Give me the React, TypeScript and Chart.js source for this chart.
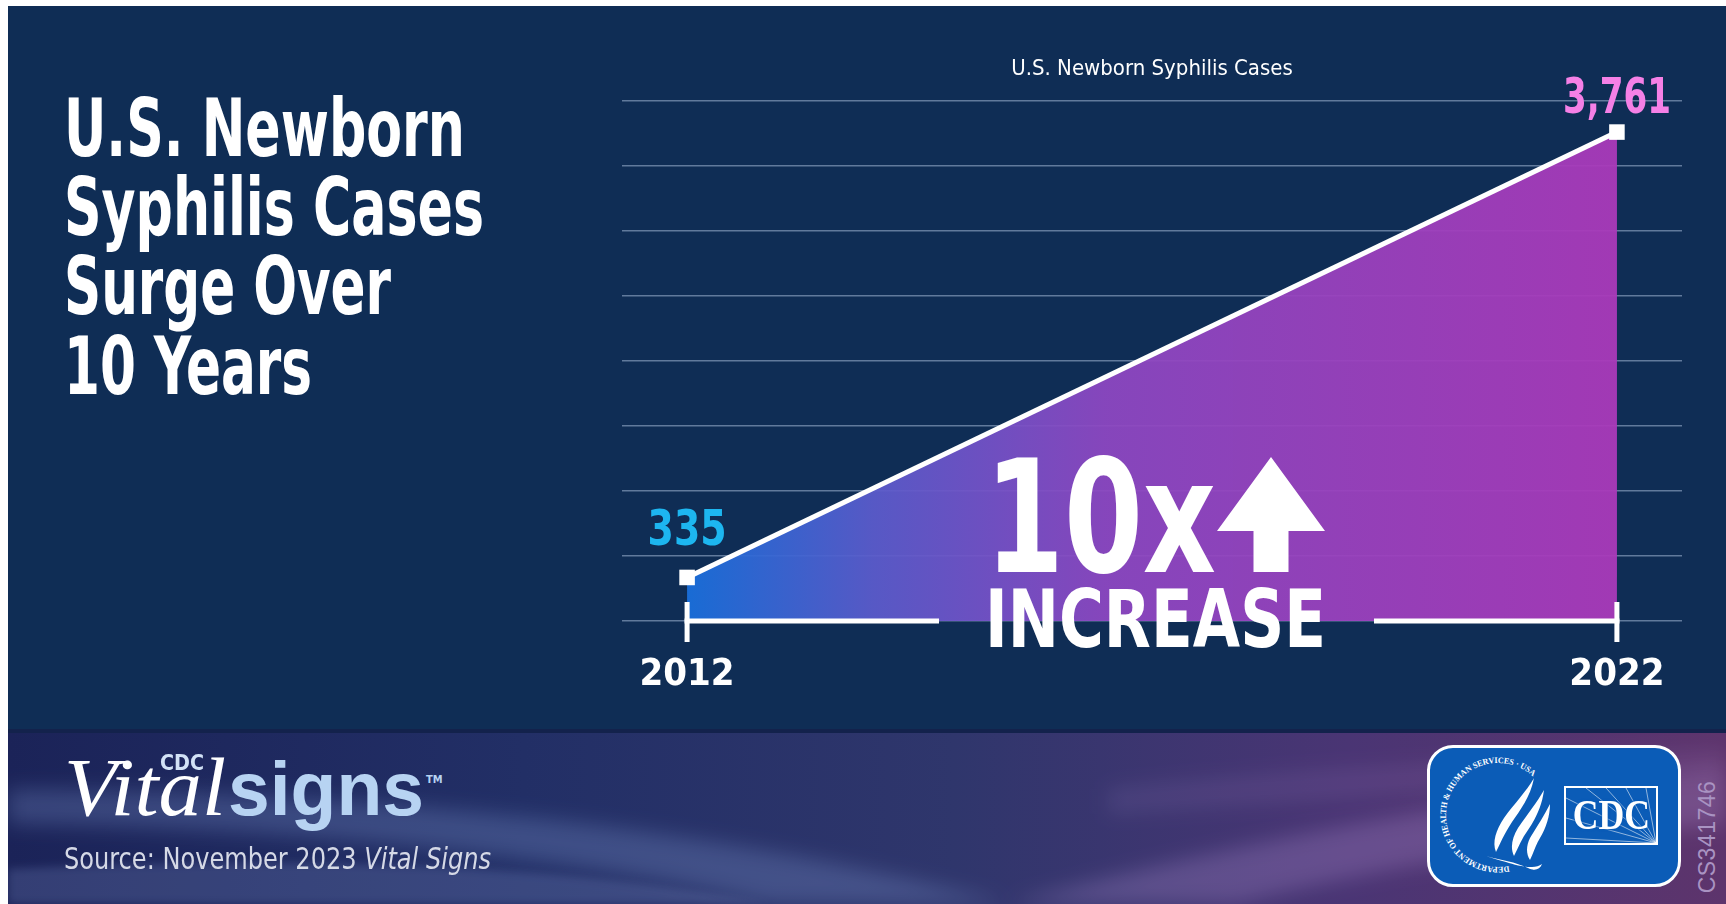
import React, { useEffect, useRef } from "react";
import { Chart, registerables } from "chart.js";

Chart.register(...registerables);

// ---- data ----
const years = [2012, 2022];
const cases = [335, 3761];
const caseLabels = ["335", "3,761"];
const caseLabelColors = ["#1db6f0", "#f580e6"];
const xTickYears = [2012, 2022];
const xMin = 2011.3;
const xMax = 2022.7;
const yMin = 0;
const yMax = 4000;
const yStep = 500;
const chartTitle = "U.S. Newborn Syphilis Cases";
const headlineLines = ["U.S. Newborn", "Syphilis Cases", "Surge Over", "10 Years"];

const NARROW =
  "'Liberation Sans Narrow', 'DejaVu Sans Condensed', 'Liberation Sans', Arial, sans-serif";
const SERIF = "'Liberation Serif', 'DejaVu Serif', serif";
const SANS = "'Liberation Sans', Arial, sans-serif";

let _mctx: CanvasRenderingContext2D | null = null;
function textWidth(text: string, font: string) {
  if (!_mctx) _mctx = document.createElement("canvas").getContext("2d");
  _mctx!.font = font;
  return _mctx!.measureText(text).width;
}

function fitText(
  ctx: CanvasRenderingContext2D,
  text: string,
  x: number,
  y: number,
  targetW: number,
  font: string,
  align: "left" | "center" = "left"
) {
  ctx.save();
  ctx.font = font;
  ctx.textBaseline = "alphabetic";
  ctx.textAlign = "left";
  const w = ctx.measureText(text).width;
  const sx = targetW / w;
  const left = align === "center" ? x - targetW / 2 : x;
  ctx.translate(left, y);
  ctx.scale(sx, 1);
  ctx.fillText(text, 0, 0);
  ctx.restore();
}

function FitDiv(props: {
  text: string;
  left: number;
  top: number;
  width: number;
  size: number;
  family: string;
  weight?: number;
  italic?: boolean;
  color: string;
}) {
  const { text, left, top, width, size, family, weight = 400, italic = false, color } = props;
  const font = `${italic ? "italic " : ""}${weight} ${size}px ${family}`;
  const w = textWidth(text, font);
  const sx = w > 0 ? width / w : 1;
  return (
    <div
      style={{
        position: "absolute",
        left,
        top,
        fontFamily: family,
        fontSize: size,
        fontWeight: weight,
        fontStyle: italic ? "italic" : "normal",
        lineHeight: 1,
        color,
        whiteSpace: "pre",
        transformOrigin: "left top",
        transform: `scaleX(${sx})`,
      }}
    >
      {text}
    </div>
  );
}

const overlayPlugin = {
  id: "overlay",
  afterDatasetsDraw(chart: any) {
    const { ctx } = chart;
    const xs = chart.scales.x;
    const ys = chart.scales.y;
    const base = ys.getPixelForValue(yMin);
    const x0 = xs.getPixelForValue(years[0]);
    const x1 = xs.getPixelForValue(years[years.length - 1]);
    const cx = xs.getPixelForValue((years[0] + years[years.length - 1]) / 2);
    ctx.save();
    ctx.fillStyle = "#ffffff";
    // bracket line with gap
    ctx.fillRect(x0 - 2.5, base - 2.5, cx - 213 - x0 + 2.5, 5);
    ctx.fillRect(cx + 222, base - 2.5, x1 - (cx + 222) + 2.5, 5);
    ctx.fillRect(x0 - 2.5, base - 19, 5, 40);
    ctx.fillRect(x1 - 2.5, base - 19, 5, 40);
    // 10x
    fitText(ctx, "10x", cx - 167, base - 49, 231, `bold 156px ${NARROW}`);
    // arrow
    const ax = cx + 119;
    ctx.beginPath();
    ctx.moveTo(ax, base - 164);
    ctx.lineTo(ax + 54, base - 90);
    ctx.lineTo(ax + 17.5, base - 90);
    ctx.lineTo(ax + 17.5, base - 49);
    ctx.lineTo(ax - 17.5, base - 49);
    ctx.lineTo(ax - 17.5, base - 90);
    ctx.lineTo(ax - 54, base - 90);
    ctx.closePath();
    ctx.fill();
    // INCREASE
    fitText(ctx, "INCREASE", cx - 167, base + 26, 341, `bold 80px ${NARROW}`);
    // value labels
    const offs = [-32, -19];
    const widths = [79, 108];
    years.forEach((yr, i) => {
      const px = xs.getPixelForValue(yr);
      const py = ys.getPixelForValue(cases[i]);
      ctx.fillStyle = caseLabelColors[i];
      fitText(ctx, caseLabels[i], px, py + offs[i], widths[i], `bold 50px ${NARROW}`, "center");
    });
    ctx.restore();
  },
};

const fillGradient = (context: any) => {
  const chart = context.chart;
  const { ctx, chartArea, scales } = chart;
  if (!chartArea || !scales.x) return "rgba(0,0,0,0)";
  const x0 = scales.x.getPixelForValue(years[0]);
  const x1 = scales.x.getPixelForValue(years[years.length - 1]);
  const g = ctx.createLinearGradient(x0, 0, x1, 0);
  g.addColorStop(0, "rgba(26,112,220,0.94)");
  g.addColorStop(0.2, "rgba(92,92,204,0.94)");
  g.addColorStop(0.45, "rgba(142,72,194,0.94)");
  g.addColorStop(1, "rgba(170,58,186,0.95)");
  return g;
};

function ChartCanvas() {
  const ref = useRef<HTMLCanvasElement | null>(null);
  useEffect(() => {
    if (!ref.current) return;
    const chart = new Chart(ref.current, {
      type: "line",
      data: {
        datasets: [
          {
            data: years.map((yr, i) => ({ x: yr, y: cases[i] })),
            borderColor: "#ffffff",
            borderWidth: 5,
            pointStyle: "rect",
            pointRadius: 11,
            pointHoverRadius: 11,
            pointBackgroundColor: "#ffffff",
            pointBorderWidth: 0,
            fill: "origin",
            backgroundColor: fillGradient,
            tension: 0,
            clip: false as any,
          },
        ],
      },
      options: {
        responsive: false,
        animation: false,
        events: [],
        layout: { padding: { left: 614, right: 44, top: 0, bottom: 0 } },
        plugins: {
          legend: { display: false },
          tooltip: { enabled: false },
          title: {
            display: true,
            text: chartTitle,
            color: "#ffffff",
            fullSize: false,
            font: { family: NARROW, size: 22, weight: "normal", lineHeight: 1.2 },
            padding: { top: 49.8, bottom: 18.8 },
          },
        },
        scales: {
          x: {
            type: "linear",
            min: xMin,
            max: xMax,
            grid: { display: false, drawTicks: false },
            border: { display: false },
            afterBuildTicks: (s: any) => {
              s.ticks = xTickYears.map((v) => ({ value: v }));
            },
            afterFit: (s: any) => {
              s.height = 108;
            },
            ticks: {
              color: "#ffffff",
              font: { family: NARROW, size: 38, weight: "bold" },
              padding: 31,
              maxRotation: 0,
              autoSkip: false,
              callback: (v: any) => String(v),
            },
          },
          y: {
            min: yMin,
            max: yMax,
            ticks: { display: false, stepSize: yStep },
            grid: { color: "rgba(165,185,215,0.55)", lineWidth: 1.5, drawTicks: false },
            border: { display: false },
            afterFit: (s: any) => {
              s.width = 0;
            },
          },
        },
      },
      plugins: [overlayPlugin],
    } as any);
    return () => chart.destroy();
  }, []);
  return (
    <canvas
      ref={ref}
      width={1718}
      height={723}
      style={{ position: "absolute", left: 0, top: 0, width: 1718, height: 723 }}
    />
  );
}

function Footer() {
  const srcFont = `400 30px ${NARROW}`;
  const srcA = "Source: November 2023 ";
  const srcB = "Vital Signs";
  const srcW = textWidth(srcA, srcFont) + textWidth(srcB, `italic ${srcFont}`);
  const srcScale = 427 / srcW;
  return (
    <div
      style={{
        position: "absolute",
        left: 0,
        top: 723,
        width: 1718,
        height: 175,
        overflow: "hidden",
      }}
    >
      <svg width={1718} height={175} style={{ position: "absolute", left: 0, top: 0 }}>
        <defs>
          <linearGradient id="fbase" x1="0" y1="0" x2="1" y2="0">
            <stop offset="0" stopColor="#1b2358" />
            <stop offset="0.3" stopColor="#222f66" />
            <stop offset="0.55" stopColor="#2f366c" />
            <stop offset="0.78" stopColor="#4a3574" />
            <stop offset="1" stopColor="#5d346c" />
          </linearGradient>
          <filter id="fblur" x="-20%" y="-50%" width="140%" height="200%">
            <feGaussianBlur stdDeviation="10" />
          </filter>
          <filter id="fblur2" x="-20%" y="-50%" width="140%" height="200%">
            <feGaussianBlur stdDeviation="4" />
          </filter>
        </defs>
        <rect x="0" y="0" width="1718" height="175" fill="url(#fbase)" />
        <rect x="0" y="0" width="1718" height="4" fill="#13224c" />
        <path
          d="M0 60 C 350 62, 700 95, 1000 175 L 760 175 C 560 125, 300 100, 0 95 Z"
          fill="rgba(140,165,225,0.26)"
          filter="url(#fblur)"
        />
        <path
          d="M0 140 C 250 128, 520 130, 760 175 L 0 175 Z"
          fill="rgba(150,170,230,0.2)"
          filter="url(#fblur2)"
        />
        <path
          d="M1000 175 C 1200 120, 1450 70, 1718 40 L 1718 95 C 1500 115, 1320 150, 1230 175 Z"
          fill="rgba(205,170,235,0.22)"
          filter="url(#fblur)"
        />
        <path
          d="M1100 60 C 1300 40, 1500 30, 1718 20 L 1718 45 C 1500 55, 1300 70, 1100 85 Z"
          fill="rgba(205,170,235,0.10)"
          filter="url(#fblur)"
        />
      </svg>
      {/* Vital signs logo */}
      <FitDiv text="Vital" left={56} top={16.5} width={162} size={83} family={SERIF} italic color="#ffffff" />
      <FitDiv text="signs" left={220} top={21.7} width={196} size={76} family={SANS} weight={700} color="#b7d3f2" />
      <FitDiv text="CDC" left={152} top={22.5} width={44} size={22} family={NARROW} weight={700} color="#d2e2f6" />
      <div
        style={{
          position: "absolute",
          left: 418,
          top: 45,
          fontFamily: NARROW,
          fontWeight: 700,
          fontSize: 11,
          lineHeight: 1,
          color: "#b7d3f2",
          whiteSpace: "pre",
        }}
      >
        TM
      </div>
      <div
        style={{
          position: "absolute",
          left: 56,
          top: 114.6,
          fontFamily: NARROW,
          fontSize: 30,
          lineHeight: 1,
          color: "#d5d9e6",
          whiteSpace: "pre",
          transformOrigin: "left top",
          transform: `scaleX(${srcScale})`,
        }}
      >
        {srcA}
        <span style={{ fontStyle: "italic" }}>{srcB}</span>
      </div>
      {/* CDC / HHS logo */}
      <div
        style={{
          position: "absolute",
          left: 1419,
          top: 16,
          width: 254,
          height: 142,
          boxSizing: "border-box",
          border: "3px solid #ffffff",
          borderRadius: 26,
          background: "#0b5cb7",
          overflow: "hidden",
        }}
      >
        <svg width={248} height={136} style={{ position: "absolute", left: 0, top: 0 }}>
          <defs>
            <path
              id="sealArc"
              d={(() => {
                const cx = 68, cy = 67, r = 52;
                const a0 = (78 * Math.PI) / 180;
                const a1 = (312 * Math.PI) / 180;
                const p0 = [cx + r * Math.cos(a0), cy + r * Math.sin(a0)];
                const p1 = [cx + r * Math.cos(a1), cy + r * Math.sin(a1)];
                return `M ${p0[0]} ${p0[1]} A ${r} ${r} 0 1 1 ${p1[0]} ${p1[1]}`;
              })()}
            />
          </defs>
          <text fill="#ffffff" fontFamily={SERIF} fontWeight="bold" fontSize="8.5">
            <textPath href="#sealArc" textLength="212" lengthAdjust="spacingAndGlyphs">
              DEPARTMENT OF HEALTH &amp; HUMAN SERVICES · USA
            </textPath>
          </text>
          <g fill="#ffffff" stroke="none">
            <path d="M104 30 C 96 44, 84 56, 74 70 C 66 82, 62 94, 66 104 C 70 96, 74 86, 82 74 C 90 62, 100 50, 104 30 Z" />
            <path d="M114 42 C 106 56, 96 68, 88 80 C 82 90, 80 100, 84 108 C 88 100, 92 90, 98 82 C 106 70, 112 58, 114 42 Z" />
            <path d="M120 56 C 114 68, 106 80, 100 90 C 96 98, 96 106, 100 112 C 104 104, 106 96, 110 90 C 116 80, 120 68, 120 56 Z" />
            <path d="M56 108 C 70 112, 86 114, 98 120 C 104 123, 110 122, 112 116 C 104 122, 88 118, 76 114 C 68 112, 62 110, 56 108 Z" />
          </g>
        </svg>
        <div
          style={{
            position: "absolute",
            left: 134,
            top: 38,
            width: 94,
            height: 59,
            boxSizing: "border-box",
            border: "2px solid #ffffff",
            overflow: "hidden",
          }}
        >
          <svg width={90} height={55} style={{ position: "absolute", left: 0, top: 0 }}>
            <g stroke="rgba(255,255,255,0.55)" strokeWidth="1">
              <line x1="90" y1="55" x2="20" y2="0" />
              <line x1="90" y1="55" x2="40" y2="0" />
              <line x1="90" y1="55" x2="60" y2="0" />
              <line x1="90" y1="55" x2="80" y2="0" />
              <line x1="90" y1="55" x2="0" y2="10" />
              <line x1="90" y1="55" x2="0" y2="30" />
              <line x1="90" y1="55" x2="0" y2="50" />
            </g>
          </svg>
          <div
            style={{
              position: "absolute",
              left: 0,
              top: 6,
              width: 90,
              textAlign: "center",
              fontFamily: SERIF,
              fontWeight: 700,
              fontSize: 42,
              lineHeight: 1,
              color: "#ffffff",
              transform: "scaleX(0.85)",
              textShadow: "0 0 3px #0b5cb7, 0 0 3px #0b5cb7",
            }}
          >
            CDC
          </div>
        </div>
      </div>
      <div
        style={{
          position: "absolute",
          left: 1699,
          top: 108,
          transform: "translate(-50%, -50%) rotate(-90deg)",
          fontFamily: SANS,
          fontSize: 23,
          lineHeight: 1,
          color: "#a993c2",
          whiteSpace: "pre",
          letterSpacing: 0.5,
        }}
      >
        CS341746
      </div>
    </div>
  );
}

const headlineTops = [81.8, 161.1, 240.4, 319.7];
const headlineWidths = [401, 420, 327, 248];

export default function App() {
  return (
    <>
      <style>{"html,body{overflow:hidden;}"}</style>
      <div
        style={{
          position: "fixed",
          left: 8,
          top: 6,
          width: 1718,
          height: 898,
          background: "#0f2d55",
          overflow: "hidden",
        }}
      >
        {headlineLines.map((line, i) => (
          <FitDiv
            key={i}
            text={line}
            left={56}
            top={headlineTops[i]}
            width={headlineWidths[i]}
            size={81}
            family={NARROW}
            weight={700}
            color="#ffffff"
          />
        ))}
        <ChartCanvas />
        <Footer />
      </div>
    </>
  );
}
